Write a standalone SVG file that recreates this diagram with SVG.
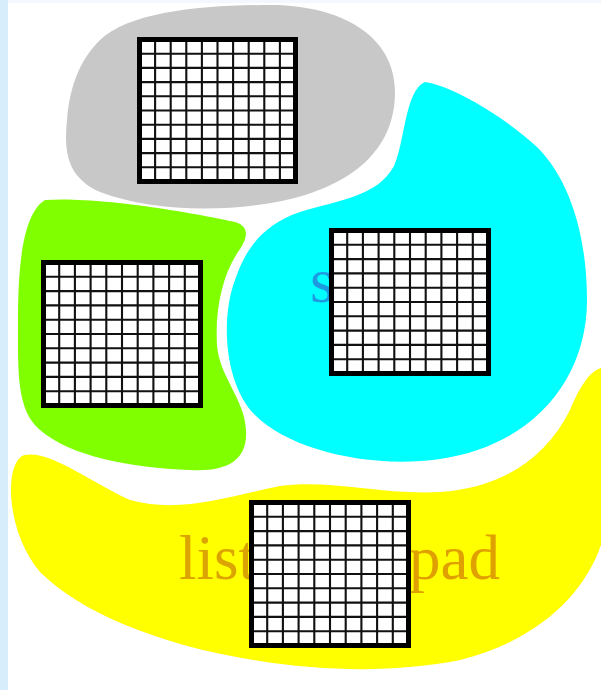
<svg xmlns="http://www.w3.org/2000/svg" xmlns:xlink="http://www.w3.org/1999/xlink" width="601" height="690" viewBox="0 0 601 690">
<style>
.lbl{font-family:"Liberation Serif","Times New Roman",serif;font-size:63px}
</style>
<defs>
<symbol id="grid" viewBox="0 0 100 100" preserveAspectRatio="none" overflow="visible">
<rect x="0" y="0" width="100" height="100" fill="#ffffff"/>
<path d="M10 0V100M20 0V100M30 0V100M40 0V100M50 0V100M60 0V100M70 0V100M80 0V100M90 0V100M0 10H100M0 20H100M0 30H100M0 40H100M0 50H100M0 60H100M0 70H100M0 80H100M0 90H100" fill="none" stroke="#111" stroke-width="2.1" vector-effect="non-scaling-stroke"/>
<rect x="0" y="0" width="100" height="100" fill="none" stroke="#000" stroke-width="5" vector-effect="non-scaling-stroke"/>
</symbol>
</defs>
<rect x="0" y="0" width="601" height="690" fill="#ffffff"/>
<rect x="0" y="0" width="601" height="3" fill="#f2f8fd"/>
<rect x="0" y="0" width="8" height="690" fill="#d8edfb"/>

<g id="node-gray">
<path d="M100,40 C130,12 200,5 270,5 C340,5 395,35 395,92 C395,150 352,186 282,201 C222,213 150,211 100,192 C66,177 64,150 67,120 C70,85 80,60 100,40 Z" fill="#c8c8c8"/>
<use xlink:href="#grid" href="#grid" x="139.5" y="39.5" width="156" height="142"/>
</g>

<g id="node-green">
<path d="M45,200 C100,196 200,214 235,222 C252,227 246,241 238,252 C222,276 215,310 217,345 C219,376 245,400 246,430 C248,462 225,472 190,470 C130,468 70,456 40,430 C16,410 18,370 18,320 C18,270 22,214 45,200 Z" fill="#80ff00"/>
<use xlink:href="#grid" href="#grid" x="43.5" y="262.5" width="157" height="143"/>
</g>

<g id="node-cyan">
<path d="M425,82 C452,86 502,115 537,147 C572,182 587,240 587,300 C587,382 530,446 440,459 C370,469 290,450 255,415 C225,385 220,320 235,280 C245,250 262,225 300,212 C340,200 378,196 394,166 C405,142 405,90 425,82 Z" fill="#00ffff"/>
<text class="lbl" x="310" y="302" fill="#1e9be0">s</text>
<use xlink:href="#grid" href="#grid" x="331.5" y="230.5" width="157" height="143"/>
</g>

<g id="node-yellow">
<path d="M25,455 C50,450 90,482 130,500 C180,514 230,496 280,486 C330,479 380,495 440,492 C500,488 545,460 570,410 C580,386 590,371 601,368 L601,545 C585,592 540,640 460,660 C400,672 330,672 260,661 C160,646 80,612 40,572 C15,542 8,500 12,476 C15,461 20,456 25,455 Z" fill="#ffff00"/>
<text class="lbl" x="179" y="579" fill="#dca400">list</text>
<text class="lbl" x="500" y="579" fill="#e0a000" text-anchor="end">pad</text>
<use xlink:href="#grid" href="#grid" x="251.5" y="502.5" width="157" height="143"/>
</g>

<g id="connectors"></g>
</svg>
